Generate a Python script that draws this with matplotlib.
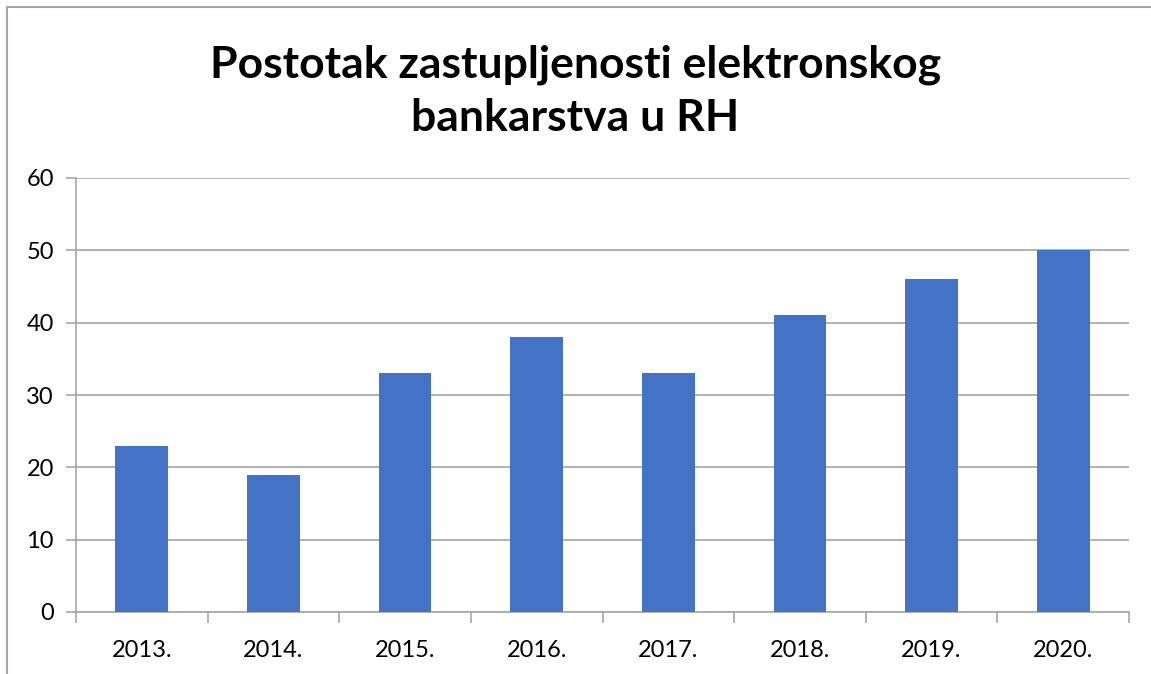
import matplotlib.pyplot as plt
from matplotlib.patches import Rectangle

years = ["2013.", "2014.", "2015.", "2016.", "2017.", "2018.", "2019.", "2020."]
values = [23, 19, 33, 38, 33, 41, 46, 50]
yticks = [0, 10, 20, 30, 40, 50, 60]

plt.rcParams["font.family"] = ["Lato", "DejaVu Sans"]

fig = plt.figure(figsize=(11.51, 6.74), dpi=100)
W, H = 1151, 674
ax = fig.add_axes([76 / W, 1 - 612 / H, (1129 - 76) / W, (612 - 178) / H])

# chart frame (only top and left visible in the reference)
fig.patches.append(Rectangle((7 / W, -0.1), 1.2, 1 - 7 / H + 0.1, transform=fig.transFigure,
                             fill=False, edgecolor="#A6A6A6", linewidth=1.5))

x = range(len(years))
ax.bar(x, values, width=0.4, color="#4472C4", zorder=3)

ax.set_xlim(-0.5, len(years) - 0.5)
ax.set_ylim(0, 60)
ax.set_yticks(yticks)
ax.set_xticks(list(x))
ax.set_xticklabels(years)
ax.set_xticks([i - 0.5 for i in range(len(years) + 1)], minor=True)

ax.grid(axis="y", color="#A6A6A6", linewidth=1.2, zorder=0)
for s in ["top", "right"]:
    ax.spines[s].set_visible(False)
ax.spines["left"].set_color("#A6A6A6")
ax.spines["bottom"].set_color("#A6A6A6")
ax.spines["left"].set_linewidth(1.2)
ax.spines["bottom"].set_linewidth(1.2)

ax.tick_params(axis="y", length=7, color="#A6A6A6", width=1.2, labelsize=17, pad=9)
ax.tick_params(axis="x", which="major", length=0, labelsize=17, pad=20)
ax.tick_params(axis="x", which="minor", length=8, color="#A6A6A6", width=1.2)

fig.text(0.5, 1 - 91 / H, "Postotak zastupljenosti elektronskog\nbankarstva u RH",
         ha="center", va="center", fontsize=32, fontweight="bold", linespacing=1.4)

fig.savefig("out.png", dpi=100)
